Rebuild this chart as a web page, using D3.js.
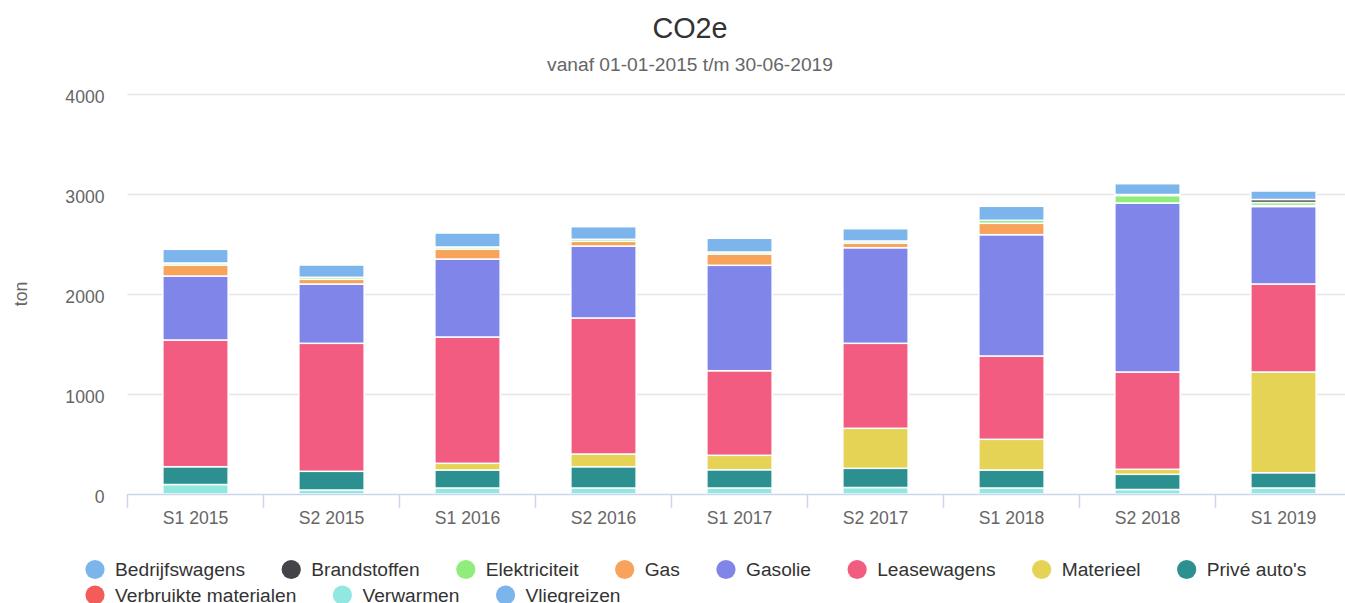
<!DOCTYPE html>
<html>
<head>
<meta charset="utf-8">
<script src="https://cdn.jsdelivr.net/npm/d3@7"></script>
<style>
  body { margin: 0; background: #fff; }
  svg { font-family: "Liberation Sans", Arial, Helvetica, sans-serif; display: block; }
</style>
</head>
<body>
<div id="chart"></div>
<script>
// categories (half years)
const categories = ['S1 2015', 'S2 2015', 'S1 2016', 'S2 2016', 'S1 2017', 'S2 2017', 'S1 2018', 'S2 2018', 'S1 2019'];

// series values in ton
const bedrijfswagens = [137, 123, 140, 126, 137, 123, 140, 108, 85];
const brandstoffen = [0, 0, 0, 0, 0, 0, 0, 10, 30];
const elektriciteit = [20, 20, 20, 20, 20, 20, 30, 75, 30];
const gas = [110, 47, 100, 47, 113, 47, 114, 0, 10];
const gasolie = [640, 593, 780, 720, 1054, 956, 1213, 1690, 775];
const leasewagens = [1267, 1280, 1263, 1360, 846, 850, 833, 973, 880];
const materieel = [0, 0, 67, 127, 144, 400, 307, 50, 1007];
const priveAutos = [178, 187, 180, 213, 183, 192, 180, 152, 153];
const verbruikteMaterialen = [0, 0, 0, 0, 0, 0, 0, 0, 0];
const verwarmen = [95, 40, 60, 60, 60, 65, 60, 45, 60];
const vliegreizen = [0, 0, 0, 0, 0, 0, 0, 0, 0];

const yTicks = [0, 1000, 2000, 3000, 4000];

// legend order (first series is drawn on top of the stack)
const series = [
  { name: 'Bedrijfswagens', values: bedrijfswagens, color: '#7cb5ec' },
  { name: 'Brandstoffen', values: brandstoffen, color: '#434348' },
  { name: 'Elektriciteit', values: elektriciteit, color: '#90ed7d' },
  { name: 'Gas', values: gas, color: '#f7a35c' },
  { name: 'Gasolie', values: gasolie, color: '#8085e9' },
  { name: 'Leasewagens', values: leasewagens, color: '#f15c80' },
  { name: 'Materieel', values: materieel, color: '#e4d354' },
  { name: "Privé auto's", values: priveAutos, color: '#2b908f' },
  { name: 'Verbruikte materialen', values: verbruikteMaterialen, color: '#f45b5b' },
  { name: 'Verwarmen', values: verwarmen, color: '#91e8e1' },
  { name: 'Vliegreizen', values: vliegreizen, color: '#7cb5ec' }
];

const width = 1345;
const height = 603;
const centerX = 690; // the original chart is a bit wider than the window
const plot = { left: 127.5, right: 1351.5, top: 94, bottom: 494 };

const svg = d3.select('#chart').append('svg')
  .attr('width', width)
  .attr('height', height);

// titles
svg.append('text')
  .attr('x', centerX).attr('y', 38)
  .attr('text-anchor', 'middle')
  .attr('font-size', 28.8)
  .attr('fill', '#333333')
  .text('CO2e');

svg.append('text')
  .attr('x', centerX).attr('y', 71)
  .attr('text-anchor', 'middle')
  .attr('font-size', 19.2)
  .attr('fill', '#666666')
  .text('vanaf 01-01-2015 t/m 30-06-2019');

// scales
const x = d3.scaleBand()
  .domain(categories)
  .range([plot.left, plot.right])
  .paddingInner(0.52)
  .paddingOuter(0.26);

const y = d3.scaleLinear()
  .domain([0, 4000])
  .range([plot.bottom, plot.top]);

// grid lines
svg.append('g')
  .selectAll('line')
  .data(yTicks.filter(d => d > 0))
  .enter()
  .append('line')
  .attr('x1', plot.left).attr('x2', plot.right)
  .attr('y1', d => Math.round(y(d)) + 0.5)
  .attr('y2', d => Math.round(y(d)) + 0.5)
  .attr('stroke', '#e6e6e6')
  .attr('stroke-width', 1.5);

// y axis labels
const yAxis = d3.axisLeft(y).tickValues(yTicks).tickSize(0).tickPadding(0).tickFormat(d3.format('d'));
const yG = svg.append('g')
  .attr('transform', 'translate(104.5,0)')
  .call(yAxis);
yG.select('.domain').remove();
yG.selectAll('text')
  .attr('font-family', null)
  .attr('font-size', 17.6)
  .attr('fill', '#666666')
  .attr('dy', '0.35em')
  .attr('y', 2);

svg.append('text')
  .attr('transform', 'translate(27,294) rotate(-90)')
  .attr('text-anchor', 'middle')
  .attr('font-size', 17.6)
  .attr('fill', '#666666')
  .text('ton');

// stacked columns
const keys = series.map(s => s.name).reverse();
const rows = categories.map((c, i) => {
  const row = { category: c };
  series.forEach(s => { row[s.name] = s.values[i]; });
  return row;
});
const stacked = d3.stack().keys(keys)(rows);
const colorOf = {};
series.forEach(s => { colorOf[s.name] = s.color; });

svg.append('g')
  .selectAll('g')
  .data(stacked)
  .enter()
  .append('g')
  .attr('fill', d => colorOf[d.key])
  .selectAll('rect')
  .data(d => d.filter(p => p[1] - p[0] > 0))
  .enter()
  .append('rect')
  .attr('x', d => x(d.data.category))
  .attr('width', x.bandwidth())
  .attr('y', d => y(d[1]))
  .attr('height', d => y(d[0]) - y(d[1]))
  .attr('stroke', '#ffffff')
  .attr('stroke-width', 1.5);

// x axis
const xAxis = d3.axisBottom(x).tickSize(0).tickPadding(0);
const xG = svg.append('g')
  .attr('transform', `translate(0,${plot.bottom})`)
  .call(xAxis);
xG.select('.domain')
  .attr('stroke', '#ccd6eb')
  .attr('stroke-width', 1.5);
xG.selectAll('text')
  .attr('font-family', null)
  .attr('font-size', 17.6)
  .attr('fill', '#666666')
  .attr('dy', 0)
  .attr('y', 30);

// category boundary ticks
const step = x.step();
svg.append('g')
  .selectAll('line')
  .data(d3.range(categories.length + 1))
  .enter()
  .append('line')
  .attr('x1', i => plot.left + i * step)
  .attr('x2', i => plot.left + i * step)
  .attr('y1', plot.bottom)
  .attr('y2', plot.bottom + 14)
  .attr('stroke', '#ccd6eb')
  .attr('stroke-width', 1.5);

// legend, flowing into rows
const legend = svg.append('g');
const items = legend.selectAll('g')
  .data(series)
  .enter()
  .append('g');
items.append('circle')
  .attr('r', 9.6)
  .attr('cx', 0)
  .attr('cy', -6.5)
  .attr('fill', d => d.color);
items.append('text')
  .attr('x', 20)
  .attr('font-size', 19.2)
  .attr('fill', '#333333')
  .text(d => d.name);

const maxRow = 1260;
const itemGap = 36.5;
let cx = 0;
let rowIndex = 0;
let rowWidth = 0;
const placed = [];
items.each(function (d) {
  const w = 9.6 + 20 + this.querySelector('text').getComputedTextLength();
  if (cx > 0 && cx + w > maxRow) {
    cx = 0;
    rowIndex += 1;
  }
  placed.push({ node: this, x: cx, row: rowIndex });
  cx += w + itemGap;
  rowWidth = Math.max(rowWidth, cx - itemGap);
});
const legendLeft = 95;
placed.forEach(p => {
  d3.select(p.node).attr('transform', `translate(${legendLeft + p.x},${576 + p.row * 25.5})`);
});
</script>
</body>
</html>
